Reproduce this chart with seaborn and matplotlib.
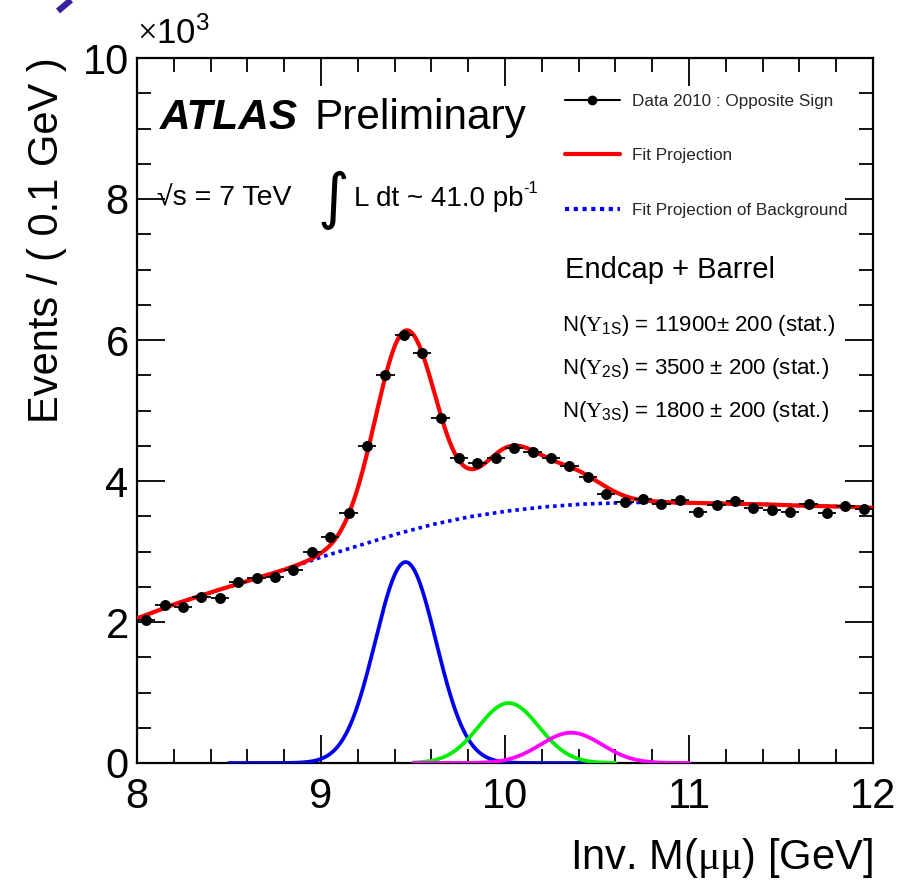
import numpy as np
import pandas as pd
import matplotlib
matplotlib.use("Agg")
import matplotlib.pyplot as plt
from matplotlib.lines import Line2D
import seaborn as sns

# ---------------- data (units of 10^3 events / 0.1 GeV) --------
bin_centers = [8.05, 8.15, 8.25, 8.35, 8.45, 8.55, 8.65, 8.75, 8.85, 8.95,
               9.05, 9.15, 9.25, 9.35, 9.45, 9.55, 9.65, 9.75, 9.85, 9.95,
               10.05, 10.15, 10.25, 10.35, 10.45, 10.55, 10.65, 10.75, 10.85, 10.95,
               11.05, 11.15, 11.25, 11.35, 11.45, 11.55, 11.65, 11.75, 11.85, 11.95]
counts = [2.03, 2.24, 2.21, 2.35, 2.34, 2.57, 2.62, 2.64, 2.74, 2.99,
          3.20, 3.55, 4.50, 5.50, 6.07, 5.81, 4.89, 4.33, 4.26, 4.33,
          4.47, 4.41, 4.33, 4.21, 4.06, 3.82, 3.70, 3.75, 3.67, 3.73,
          3.56, 3.66, 3.72, 3.62, 3.59, 3.56, 3.67, 3.55, 3.65, 3.60]

# background fit projection
bg_mass = [8.0, 8.2, 8.4, 8.6, 8.8, 9.0, 9.2, 9.4, 9.6, 9.8, 10.0,
           10.2, 10.4, 10.6, 10.8, 11.0, 11.2, 11.4, 11.6, 11.8, 12.0]
bg_level = [2.05, 2.25, 2.42, 2.58, 2.74, 2.92, 3.08, 3.24, 3.38, 3.49, 3.57,
            3.63, 3.67, 3.69, 3.70, 3.69, 3.68, 3.67, 3.65, 3.64, 3.62]

# Upsilon peaks: names, peak height, mass, width, drawn range
peak_names = ["1S", "2S", "3S"]
peak_height = [2.85, 0.85, 0.43]
peak_mass = [9.46, 10.02, 10.36]
peak_sigma = [0.165, 0.164, 0.167]
peak_lo = [8.5, 9.5, 9.5]
peak_hi = [10.5, 10.6, 11.0]
peak_colors = ["#0000ee", "#00ee00", "#ff00ff"]
yields = ["11900", "3500", "1800"]
yield_err = ["200", "200", "200"]

# ---------------- style ----------------
sns.set_theme(style="ticks")
plt.rcParams["font.family"] = ["Liberation Sans", "DejaVu Sans"]
plt.rcParams["mathtext.fontset"] = "custom"
plt.rcParams["mathtext.rm"] = "Liberation Serif"
plt.rcParams["mathtext.sf"] = "Liberation Sans"
plt.rcParams["mathtext.it"] = "Liberation Sans:italic"
plt.rcParams["mathtext.bf"] = "Liberation Sans:bold"

W, H = 900, 884
fig = plt.figure(figsize=(W / 100, H / 100), dpi=100)
fig.patch.set_facecolor("white")
ax = fig.add_axes([137 / W, 1 - 763 / H, (873 - 137) / W, (763 - 58) / H])
ax.set_facecolor("white")

grid = np.linspace(8.0, 12.0, 1601)
bg = np.interp(grid, bg_mass, bg_level)
gauss = []
for h, m, s in zip(peak_height, peak_mass, peak_sigma):
    gauss.append(h * np.exp(-0.5 * ((grid - m) / s) ** 2))
total = bg + sum(gauss)

# individual peaks
for g, lo, hi, c in zip(gauss, peak_lo, peak_hi, peak_colors):
    sel = (grid >= lo) & (grid <= hi)
    sns.lineplot(x=grid[sel], y=g[sel], ax=ax, color=c, lw=2.7, zorder=3)

# background (dotted blue)
sns.lineplot(x=grid, y=bg, ax=ax, color="#0000ff", lw=2.6, zorder=4,
             linestyle=(0, (1.0, 1.1)))
# total fit
sns.lineplot(x=grid, y=total, ax=ax, color="#ff0000", lw=3.0, zorder=5)

# data points
df = pd.DataFrame({"m": bin_centers, "n": counts})
yerr = np.sqrt(np.array(counts) * 1000.0) / 1000.0
ax.errorbar(df["m"], df["n"], xerr=0.05, yerr=yerr, fmt="none",
            ecolor="black", elinewidth=1.3, capsize=0, zorder=6)
sns.scatterplot(data=df, x="m", y="n", ax=ax, color="black", s=62,
                edgecolor="black", linewidth=0, zorder=7)

# axes
ax.set_xlim(8, 12)
ax.set_ylim(0, 10)
ax.set_xticks([8, 9, 10, 11, 12])
ax.set_xticks(np.arange(8, 12.01, 0.2), minor=True)
ax.set_yticks([0, 2, 4, 6, 8, 10])
ax.set_yticks(np.arange(0, 10.01, 0.5), minor=True)
ax.set_xticklabels(["8", "9", "10", "11", "12"])
ax.set_yticklabels(["0", "2", "4", "6", "8", "10"])
ax.tick_params(axis="both", which="both", direction="in", top=True, right=True,
               colors="black", labelsize=30, width=1.3)
ax.tick_params(axis="both", which="major", length=20)
ax.tick_params(axis="both", which="minor", length=10)
ax.tick_params(axis="x", which="major", pad=10)
ax.tick_params(axis="y", which="major", pad=6)
for sp in ax.spines.values():
    sp.set_visible(True)
    sp.set_color("black")
    sp.set_linewidth(1.6)
ax.set_xlabel("")
ax.set_ylabel("")

# axis titles
fig.text(873 / W, 1 - 858 / H, r"Inv. M($\mathrm{\mu\mu}$) [GeV]", ha="right",
         va="center", fontsize=30, color="black")
fig.text(47 / W, 1 - 57 / H, "Events / ( 0.1 GeV )", rotation=90, ha="center",
         va="top", fontsize=30, color="black")
ax.text(0.0, 1.01, r"$\times$10$^{\mathsf{3}}$", transform=ax.transAxes,
        ha="left", va="bottom", fontsize=25, color="black")

# ATLAS label
fig.text(160 / W, 1 - 129 / H, "ATLAS", fontsize=30.5, fontweight="bold",
         fontstyle="italic", ha="left", va="baseline", color="black")
fig.text(315 / W, 1 - 129 / H, "Preliminary", fontsize=30.5, ha="left",
         va="baseline", color="black")
fig.text(157 / W, 1 - 206 / H, "\u221as = 7 TeV", fontsize=20.5,
         ha="left", va="baseline", color="black")
fig.text(318 / W, 1 - 200 / H, "\u222b", fontsize=44, ha="left", va="center",
         family=["DejaVu Sans"], color="black")
lumi = fig.text(354 / W, 1 - 206 / H, "L dt ~ 41.0 pb", fontsize=20,
                ha="left", va="baseline", color="black")
ax.annotate("-1", xy=(1.0, 0.62), xycoords=lumi, ha="left", va="bottom",
            fontsize=12, color="black")

# legend
handles = [
    Line2D([], [], color="black", marker="o", markersize=6, lw=1.5),
    Line2D([], [], color="#ff0000", lw=3),
    Line2D([], [], color="#0000ff", lw=3, linestyle=(0, (1.0, 1.1))),
]
labels = ["Data 2010 : Opposite Sign", "Fit Projection",
          "Fit Projection of Background"]
leg = ax.legend(handles, labels, loc="upper left", frameon=False,
                bbox_to_anchor=(565 / W, 1 - 94 / H),
                bbox_transform=fig.transFigure, fontsize=12.3,
                handlelength=3.2, handletextpad=0.75, labelspacing=2.3,
                borderpad=0, borderaxespad=0)

fig.text(565 / W, 1 - 270 / H, "Endcap + Barrel", fontsize=21, ha="left",
         va="center", color="black")
for i, (nm, y, e) in enumerate(zip(peak_names, yields, yield_err)):
    sep = "" if i == 0 else " "
    fig.text(562 / W, 1 - (331 + 43 * i) / H,
             r"N($\Upsilon_{\mathsf{" + nm + r"}}$) = " + y + sep + "\u00b1 " + e + " (stat.)",
             fontsize=16, ha="left", va="baseline", color="black")

# stray stroke at top-left corner
fig.add_artist(Line2D([58 / W, 71 / W], [1 - 11 / H, 1 - 0 / H],
                      transform=fig.transFigure, color="#3a1fa0", lw=4.5,
                      solid_capstyle="butt"))

fig.savefig("out.png", dpi=100, facecolor="white")
